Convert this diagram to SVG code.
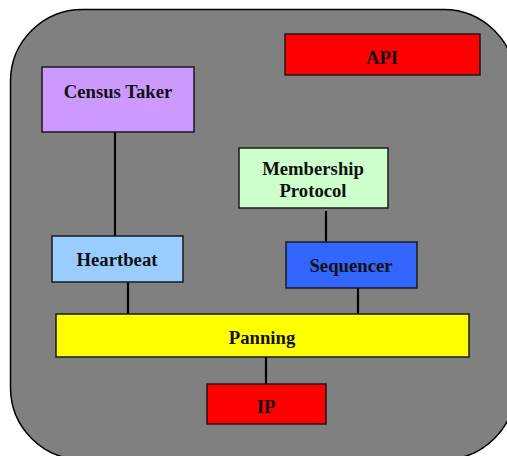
<svg xmlns="http://www.w3.org/2000/svg" width="507" height="456" viewBox="0 0 507 456">
  <style>
    .box { stroke: #1a1a1a; stroke-width: 1.5; }
    .lbl { font-family: "Liberation Serif", "Times New Roman", serif; font-weight: bold; font-size: 18.7px; fill: #111; text-anchor: middle; }
    .link { stroke: #000; stroke-width: 2.2; fill: none; }
  </style>
  <rect id="frame" x="10.5" y="9.5" width="505" height="450" rx="72" ry="72" fill="#808080" stroke="#000" stroke-width="1.5"/>

  <g id="connectors">
    <line class="link" x1="115" y1="132" x2="115" y2="236"/>
    <line class="link" x1="128" y1="282" x2="128" y2="314"/>
    <line class="link" x1="326" y1="211" x2="326" y2="242"/>
    <line class="link" x1="358" y1="288" x2="358" y2="314"/>
    <line class="link" x1="266" y1="357" x2="266" y2="384"/>
  </g>

  <g id="census-taker">
    <rect class="box" x="42" y="67" width="152" height="65" fill="#CC99FF"/>
    <text class="lbl" x="118" y="98">Census Taker</text>
  </g>
  <g id="api">
    <rect class="box" x="285" y="34" width="195" height="41" fill="#FF0000"/>
    <text class="lbl" x="382" y="64">API</text>
  </g>
  <g id="membership-protocol">
    <rect class="box" x="239" y="148" width="149" height="60" fill="#CCFFCC"/>
    <text class="lbl" x="313" y="175">Membership</text>
    <text class="lbl" x="313" y="197">Protocol</text>
  </g>
  <g id="heartbeat">
    <rect class="box" x="52" y="236" width="131" height="46" fill="#99CCFF"/>
    <text class="lbl" x="117" y="266">Heartbeat</text>
  </g>
  <g id="sequencer">
    <rect class="box" x="286" y="242" width="131" height="46" fill="#3366FF"/>
    <text class="lbl" x="351" y="272">Sequencer</text>
  </g>
  <g id="panning">
    <rect class="box" x="56" y="314" width="413" height="43" fill="#FFFF00"/>
    <text class="lbl" x="262" y="344">Panning</text>
  </g>
  <g id="ip">
    <rect class="box" x="207" y="384" width="119" height="40" fill="#FF0000"/>
    <text class="lbl" x="266" y="413">IP</text>
  </g>
</svg>
